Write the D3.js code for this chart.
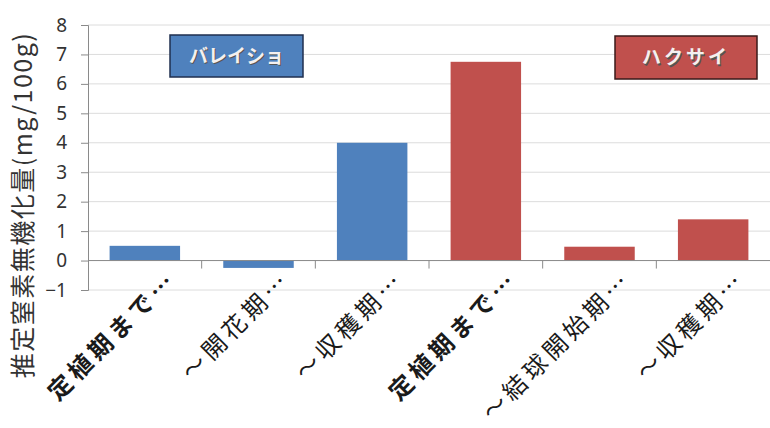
<!DOCTYPE html>
<html>
<head>
<meta charset="utf-8">
<script src="https://cdn.jsdelivr.net/npm/d3@7"></script>
<style>
  html, body { margin: 0; padding: 0; background: #fff; }
  svg { display: block; }
  text { font-family: "Noto Sans CJK JP", "Noto Sans", sans-serif; }
</style>
</head>
<body>
<svg id="chart" width="770" height="428"></svg>
<script>
// Estimated nitrogen mineralization per growth stage, two crops
const categories = ["定植期まで…", "～開花期…", "～収穫期…", "定植期まで…", "～結球開始期…", "～収穫期…"];
const values = [0.5, -0.25, 4.0, 6.75, 0.47, 1.4];
const crops = ["バレイショ", "バレイショ", "バレイショ", "ハクサイ", "ハクサイ", "ハクサイ"];
const boldLabels = [true, false, false, true, false, false];
const yTicks = [-1, 0, 1, 2, 3, 4, 5, 6, 7, 8];
const legendNames = ["バレイショ", "ハクサイ"];
const yTitle = "推定窒素無機化量(mg/100g)";

const colors = { "バレイショ": "#4f81bd", "ハクサイ": "#c0504d" };
const borders = { "バレイショ": "#1f2f4f", "ハクサイ": "#3a1a1a" };

const svg = d3.select("#chart");
const plot = { left: 88, right: 770, top: 25, bottom: 290 };

const x = d3.scaleBand()
  .domain(d3.range(categories.length))
  .range([plot.left, plot.right])
  .paddingInner(0.38)
  .paddingOuter(0.19);

const y = d3.scaleLinear().domain([-1, 8]).range([plot.bottom, plot.top]);

// horizontal gridlines
svg.append("g")
  .selectAll("line")
  .data(yTicks)
  .join("line")
  .attr("x1", plot.left).attr("x2", plot.right)
  .attr("y1", d => y(d)).attr("y2", d => y(d))
  .attr("stroke", "#dcdcdc").attr("stroke-width", 1);

// y axis
const yAxis = svg.append("g")
  .attr("transform", `translate(${plot.left},0)`)
  .call(d3.axisLeft(y).tickValues(yTicks).tickSize(7).tickPadding(14).tickFormat(d3.format("d")));
yAxis.select(".domain").attr("stroke", "#8a8a8a");
yAxis.selectAll(".tick line").attr("stroke", "#8a8a8a");
yAxis.selectAll(".tick text")
  .attr("font-size", 19).attr("fill", "#333")
  .style("font-family", "'Noto Sans', sans-serif");

// bars
svg.append("g")
  .selectAll("rect")
  .data(values)
  .join("rect")
  .attr("x", (d, i) => x(i))
  .attr("width", x.bandwidth())
  .attr("y", d => y(Math.max(0, d)))
  .attr("height", d => Math.abs(y(d) - y(0)))
  .attr("fill", (d, i) => colors[crops[i]]);

// zero line with category separators
const step = x.step();
const sepX = d3.range(1, categories.length).map(i => x(i) - (step - x.bandwidth()) / 2);
svg.append("line")
  .attr("x1", plot.left).attr("x2", plot.right)
  .attr("y1", y(0)).attr("y2", y(0))
  .attr("stroke", "#8a8a8a").attr("stroke-width", 1);
svg.append("g")
  .selectAll("line")
  .data(sepX)
  .join("line")
  .attr("x1", d => d).attr("x2", d => d)
  .attr("y1", y(0)).attr("y2", y(0) + 8)
  .attr("stroke", "#8a8a8a");

// rotated category labels
svg.append("g")
  .selectAll("text")
  .data(categories)
  .join("text")
  .attr("transform", (d, i) => `translate(${x(i) + x.bandwidth() / 2 + 34},${plot.bottom - 9}) rotate(-45)`)
  .attr("text-anchor", "end")
  .attr("font-size", 24)
  .attr("letter-spacing", 4.5)
  .attr("font-weight", (d, i) => boldLabels[i] ? 700 : 400)
  .attr("fill", "#1a1a1a")
  .text(d => d);

// y axis title
svg.append("text")
  .attr("transform", `translate(32,205) rotate(-90)`)
  .attr("text-anchor", "middle")
  .attr("font-size", 25)
  .attr("letter-spacing", 1.5)
  .attr("fill", "#333")
  .text(yTitle);

// crop name boxes
const legendBoxes = [
  { name: legendNames[0], x: 170, y: 35, w: 133, h: 42, spacing: 0 },
  { name: legendNames[1], x: 615, y: 36, w: 142, h: 43, spacing: 3 }
];
const lg = svg.append("g").selectAll("g").data(legendBoxes).join("g");
lg.append("rect")
  .attr("x", d => d.x).attr("y", d => d.y)
  .attr("width", d => d.w).attr("height", d => d.h)
  .attr("fill", d => colors[d.name])
  .attr("stroke", d => borders[d.name]).attr("stroke-width", 1.5);
lg.append("text")
  .attr("x", d => d.x + d.w / 2 + 1).attr("y", d => d.y + d.h / 2 + 1.5)
  .attr("dy", "0.35em")
  .attr("text-anchor", "middle")
  .attr("font-size", 19).attr("font-weight", 700)
  .attr("fill", "#555")
  .attr("letter-spacing", d => d.spacing)
  .text(d => d.name);
lg.append("text")
  .attr("x", d => d.x + d.w / 2).attr("y", d => d.y + d.h / 2)
  .attr("dy", "0.35em")
  .attr("text-anchor", "middle")
  .attr("font-size", 19).attr("font-weight", 700)
  .attr("fill", "#f4f0f0")
  .attr("letter-spacing", d => d.spacing)
  .text(d => d.name);
</script>
</body>
</html>
